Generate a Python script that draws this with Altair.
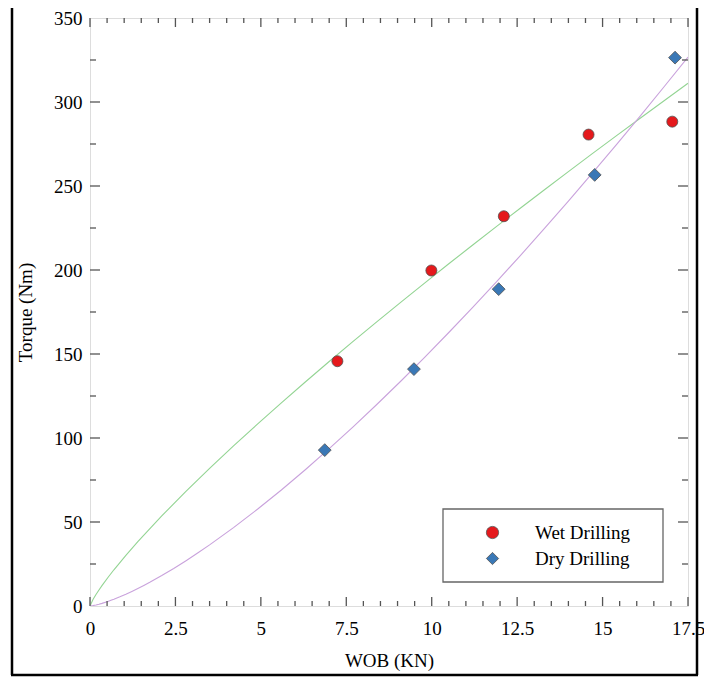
import altair as alt
import pandas as pd

# ---- data ----
series_names = ["Wet Drilling", "Dry Drilling"]
wet_wob = [7.24, 9.99, 12.11, 14.59, 17.04]
wet_torque = [145.7, 199.7, 232.0, 280.6, 288.3]
dry_wob = [6.87, 9.48, 11.96, 14.77, 17.12]
dry_torque = [92.8, 141.0, 188.6, 256.6, 326.4]

x_major = [0, 2.5, 5, 7.5, 10, 12.5, 15, 17.5]
y_major = [0, 50, 100, 150, 200, 250, 300, 350]
x_minor = [v / 2 for v in range(0, 36) if v % 5 != 0]
y_minor = [25, 75, 125, 175, 225, 275, 325]

point_colors = ["#e5191c", "#3a78b6"]
point_shapes = ["circle", "diamond"]
line_colors = {"Wet Drilling": "#93d493", "Dry Drilling": "#c9a2dc"}

df = pd.DataFrame({
    "wob": wet_wob + dry_wob,
    "torque": wet_torque + dry_torque,
    "series": [series_names[0]] * len(wet_wob) + [series_names[1]] * len(dry_wob),
})

TOP = 10
W, H = 598, 598 - TOP
FONT = "Liberation Serif"
FRAME = "#555555"

xscale = alt.Scale(domain=[0, 17.5], nice=False, zero=False)
yscale = alt.Scale(domain=[0, 350], nice=False, zero=False)
xaxis = alt.Axis(values=x_major, labelExpr="'' + datum.value", title="WOB (KN)", ticks=False,
                 tickSize=0, grid=False, domain=False, labelPadding=13, labelFontSize=19,
                 labelFont=FONT, labelColor="black", titleFont=FONT, titleFontSize=19,
                 titleFontWeight="normal", titleColor="black", titleY=60,
                 titleBaseline="alphabetic", labelFlush=False)
yaxis = alt.Axis(values=y_major, format="d", title="Torque (Nm)", ticks=False, tickSize=0,
                 grid=False, domain=False, labelPadding=8, labelFontSize=19, labelFont=FONT,
                 labelColor="black", titleFont=FONT, titleFontSize=19, titleFontWeight="normal",
                 titleColor="black", titleX=-65, titleBaseline="middle", labelFlush=False)


def X(field):
    return alt.X(field, type="quantitative", scale=xscale, axis=xaxis)


def Y(field):
    return alt.Y(field, type="quantitative", scale=yscale, axis=yaxis)


base = alt.Chart(df)

lines = []
for name in series_names:
    lines.append(
        base.transform_filter(alt.datum.series == name)
        .transform_regression("wob", "torque", method="pow", extent=[0, 17.5])
        .mark_line(color=line_colors[name], strokeWidth=1.1, clip=True)
        .encode(x=X("wob"), y=Y("torque"))
    )

# legend frame position (plot-relative pixels)
LX0, LX1 = 353, 573
LY0, LY1 = 509 - 8 - TOP, 582 - 8 - TOP

points = base.mark_point(filled=True, opacity=1, stroke="#505050", strokeWidth=0.8).encode(
    x=X("wob"),
    y=Y("torque"),
    color=alt.Color("series:N", scale=alt.Scale(domain=series_names, range=point_colors),
                    legend=alt.Legend(title=None, orient="none", legendX=LX0, legendY=LY0,
                                      padding=14, symbolOffset=26, labelOffset=33,
                                      rowPadding=6, labelFont=FONT, labelFontSize=19,
                                      labelColor="black", symbolSize=150,
                                      symbolStrokeColor="#505050", symbolStrokeWidth=0.8)),
    shape=alt.Shape("series:N", scale=alt.Scale(domain=series_names, range=point_shapes)),
    size=alt.condition(alt.datum.series == "Dry Drilling", alt.value(165), alt.value(121)),
)

legend_box = alt.Chart(pd.DataFrame({"k": [0]})).mark_rect(
    fill="white", stroke="#666666", strokeWidth=1.3).encode(
    x=alt.value(LX0), x2=alt.value(LX1), y=alt.value(LY0), y2=alt.value(LY1))


# ---- inward tick marks on all four sides ----
def tick_layer(vals, orient, length):
    d = alt.Chart(pd.DataFrame({"v": vals}))
    m = d.mark_rule(color=FRAME, strokeWidth=1.3)
    if orient == "bottom":
        return m.encode(x=X("v"), y=alt.value(H), y2=alt.value(H - length))
    if orient == "top":
        return m.encode(x=X("v"), y=alt.value(0), y2=alt.value(length))
    if orient == "left":
        return m.encode(y=Y("v"), x=alt.value(0), x2=alt.value(length))
    return m.encode(y=Y("v"), x=alt.value(W), x2=alt.value(W - length))


ticks = []
for o in ["bottom", "top"]:
    ticks.append(tick_layer(x_major, o, 9))
    ticks.append(tick_layer(x_minor, o, 5))
for o in ["left", "right"]:
    ticks.append(tick_layer(y_major[1:-1], o, 10))
    ticks.append(tick_layer(y_minor, o, 6))

# ---- outer page border (left, right, bottom) ----
BB = 675 - 8 - TOP
border_df = pd.DataFrame({"k": [0]})
bl = alt.Chart(border_df).mark_rule(color="black", strokeWidth=2.5).encode(
    x=alt.value(-78), y=alt.value(-TOP - 2), y2=alt.value(BB))
br = alt.Chart(border_df).mark_rule(color="black", strokeWidth=2.5).encode(
    x=alt.value(607), y=alt.value(-TOP - 2), y2=alt.value(BB))
bb = alt.Chart(border_df).mark_rule(color="black", strokeWidth=2.5).encode(
    x=alt.value(-79), x2=alt.value(608), y=alt.value(BB))

chart = alt.layer(*lines, *ticks, legend_box, points, bl, br, bb).properties(
    width=W, height=H,
    padding={"left": 82, "top": TOP, "right": 16, "bottom": 669 - TOP - H},
    autosize=alt.AutoSizeParams(type="none"),
).configure_view(stroke=FRAME, strokeWidth=1.6).configure(background="white")

chart.save("out.html", embed_options={"renderer": "svg", "actions": False})
